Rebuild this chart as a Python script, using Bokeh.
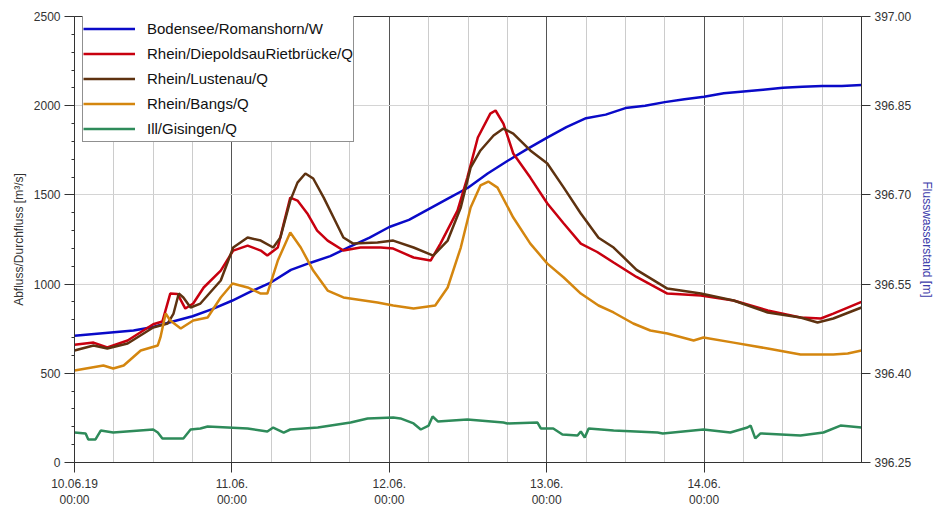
from bokeh.plotting import figure
from bokeh.models import (Range1d, LinearAxis, FixedTicker, PrintfTickFormatter,
                          Legend, LegendItem)
from bokeh.embed import file_html
from bokeh.resources import INLINE

# ---------------- data (hours since 10.06.19 00:00) ----------------
bodensee_h = [0, 3, 6, 9, 12, 15, 18, 21, 24, 27, 30, 33, 36, 39, 42, 45, 48, 51, 54, 57,
              60, 63, 66, 69, 72, 75, 78, 81, 84, 87, 90, 93, 96, 99, 102, 105, 108, 111,
              114, 117, 120]
bodensee_w = [396.463, 396.466, 396.469, 396.472, 396.478, 396.487, 396.496, 396.508,
              396.522, 396.538, 396.553, 396.574, 396.586, 396.597, 396.613, 396.628,
              396.646, 396.658, 396.676, 396.694, 396.712, 396.736, 396.757, 396.777,
              396.796, 396.814, 396.829, 396.835, 396.846, 396.850, 396.856, 396.861,
              396.865, 396.871, 396.874, 396.877, 396.880, 396.882, 396.883, 396.883,
              396.885]

diepoldsau_h = [0, 2.9, 5, 8.1, 12, 13.4, 14.6, 15.7, 16.9, 18.1, 19.7, 22.3, 24.2, 26.4,
                28.4, 29.4, 31, 31.9, 32.9, 34, 35.5, 37, 38.6, 41, 43.6, 46.7, 48.6, 51.7,
                54.3, 55.8, 58.4, 59.9, 61.5, 63.4, 64.2, 65.4, 66.9, 69.5, 72.1, 74.6,
                77.2, 79.7, 82.2, 85.7, 90.4, 95.5, 100.5, 105.7, 110.7, 113.8, 115.7, 120]
diepoldsau_q = [660, 672, 645, 684, 775, 790, 947, 945, 863, 891, 981, 1076, 1188, 1216,
                1188, 1160, 1205, 1340, 1485, 1468, 1396, 1300, 1244, 1188, 1205, 1205, 1199,
                1149, 1132, 1227, 1412, 1597, 1822, 1956, 1973, 1900, 1732, 1597, 1452, 1340,
                1227, 1180, 1121, 1040, 947, 936, 908, 852, 813, 807, 835, 900]

lustenau_h = [0, 2.9, 5, 8.1, 12, 14.2, 15.1, 15.9, 16.6, 17.7, 19.2, 22.3, 24.2, 26.4,
              28.4, 30.3, 31.4, 32.9, 34, 35.2, 36.4, 38, 39.5, 41, 42.5, 46.2, 48.6, 51.7,
              54.7, 56.9, 58.9, 60.4, 61.9, 63.9, 65.4, 66.9, 69.5, 72.1, 74.6, 77.2, 79.9,
              82.2, 85.7, 90.4, 95.5, 100.5, 105.7, 110.7, 113.3, 115.7, 120]
lustenau_q = [628, 656, 639, 667, 757, 779, 835, 947, 925, 869, 891, 1020, 1205, 1261,
              1244, 1205, 1261, 1468, 1569, 1620, 1592, 1485, 1373, 1261, 1227, 1233, 1244,
              1205, 1160, 1244, 1429, 1653, 1749, 1833, 1872, 1844, 1749, 1676, 1541, 1396,
              1260, 1205, 1080, 975, 947, 908, 841, 813, 785, 807, 869]

bangs_h = [0, 4.4, 5.9, 7.5, 10.1, 12.7, 13.1, 13.9, 14.6, 16.2, 18.1, 20.3, 22.3, 24.1,
           26.4, 28.4, 29.4, 31, 32.9, 34.5, 36.4, 38.6, 41, 46.2, 48.6, 51.7, 55, 56.9,
           58.9, 60.4, 61.9, 63.1, 64.5, 66.9, 69.5, 72.1, 74.6, 77.2, 79.9, 82.2, 85.2,
           87.8, 90.4, 94.4, 95.9, 100.5, 105.7, 110.7, 115.7, 117.9, 120]
bangs_q = [516, 544, 527, 544, 628, 656, 701, 835, 796, 751, 796, 813, 925, 1003, 981, 947,
           947, 1132, 1289, 1205, 1076, 964, 925, 897, 880, 863, 880, 981, 1205, 1429, 1553,
           1575, 1541, 1373, 1227, 1115, 1037, 947, 880, 841, 779, 740, 723, 684, 701, 672,
           639, 605, 605, 611, 628]

gisingen_h = [0, 1.7, 2.1, 3.2, 4, 5.9, 12, 12.7, 13.4, 16.6, 17.7, 19.2, 20.3, 26.4, 29.4,
              30.3, 31.9, 32.9, 37.1, 42.1, 44.7, 48.6, 49.7, 51.7, 52.8, 54, 54.6, 55.4,
              59.9, 65.4, 66, 70.6, 71.1, 73, 74.4, 76.7, 77.2, 77.8, 78.4, 82.2, 88.9, 89.7,
              95.9, 100, 102.6, 103.1, 103.8, 104.6, 110.7, 114.2, 116.8, 120]
gisingen_q = [168, 163, 129, 129, 179, 168, 185, 168, 135, 135, 185, 191, 202, 191, 174,
              196, 168, 185, 196, 224, 247, 252, 247, 219, 185, 207, 258, 230, 241, 224, 219,
              224, 191, 191, 157, 151, 174, 140, 191, 179, 168, 163, 185, 168, 196, 207, 135,
              163, 151, 168, 207, 196]

series_names = ["Bodensee/Romanshorn/W", "Rhein/DiepoldsauRietbrücke/Q", "Rhein/Lustenau/Q",
                "Rhein/Bangs/Q", "Ill/Gisingen/Q"]
series_colors = ["#0a0ac8", "#c8000f", "#5e3210", "#d4860f", "#2e8b5a"]

day_ticks = [0, 24, 48, 72, 96]
day_labels = ["10.06.19\n00:00", "11.06.\n00:00", "12.06.\n00:00", "13.06.\n00:00", "14.06.\n00:00"]
q_ticks = [0, 500, 1000, 1500, 2000, 2500]
w_ticks = [396.25, 396.40, 396.55, 396.70, 396.85, 397.00]

FONT = "Liberation Sans"

p = figure(frame_width=787, frame_height=446, output_backend="svg", toolbar_location=None,
           x_range=Range1d(0, 120), y_range=Range1d(0, 2500),
           min_border_left=74, min_border_right=74, min_border_top=16, min_border_bottom=43)
p.extra_y_ranges = {"w": Range1d(396.25, 397.0)}
p.outline_line_color = "#333333"
p.outline_line_width = 1
p.background_fill_color = "white"
p.border_fill_color = "white"

# grids
p.xgrid.ticker = FixedTicker(ticks=day_ticks, minor_ticks=[h for h in range(6, 120, 6) if h % 24])
p.xgrid.grid_line_color = "#555555"
p.xgrid.grid_line_width = 1
p.xgrid.minor_grid_line_color = "#cccccc"
p.xgrid.minor_grid_line_width = 1
p.ygrid.ticker = FixedTicker(ticks=q_ticks[1:-1])
p.ygrid.grid_line_color = "#d4d4d4"

# x axis
xa = p.xaxis[0]
xa.ticker = FixedTicker(ticks=day_ticks)
xa.major_label_overrides = {t: l for t, l in zip(day_ticks, day_labels)}
xa.major_label_text_align = "left"
xa.major_label_text_font = FONT
xa.major_label_text_font_size = "12px"
xa.major_label_text_color = "#333333"
xa.major_tick_out = 10
xa.major_tick_in = 0
xa.minor_tick_line_color = None
xa.axis_line_color = "#333333"
xa.major_tick_line_color = "#333333"
xa.major_label_standoff = 4

# left axis
ya = p.yaxis[0]
ya.ticker = FixedTicker(ticks=q_ticks, minor_ticks=[v for v in range(100, 2500, 100) if v % 500])
ya.axis_label = "Abfluss/Durchfluss [m³/s]"
ya.axis_label_text_font = FONT
ya.axis_label_text_font_style = "normal"
ya.axis_label_text_font_size = "12px"
ya.axis_label_text_color = "#333333"
ya.axis_label_standoff = 5
ya.major_label_text_font = FONT
ya.major_label_text_font_size = "12px"
ya.major_label_text_color = "#333333"
ya.major_tick_out = 10
ya.major_tick_in = 0
ya.minor_tick_out = 3
ya.minor_tick_in = 0
ya.major_label_standoff = 4
ya.axis_line_color = "#333333"
ya.major_tick_line_color = "#333333"
ya.minor_tick_line_color = "#333333"

# right axis
ra = LinearAxis(y_range_name="w", ticker=FixedTicker(ticks=w_ticks),
                formatter=PrintfTickFormatter(format="%.2f"))
ra.axis_label = "Flusswasserstand [m]"
ra.axis_label_text_font = FONT
ra.axis_label_text_font_style = "normal"
ra.axis_label_text_font_size = "12px"
ra.axis_label_text_color = "#3c3caa"
ra.axis_label_standoff = 6
ra.major_label_text_font = FONT
ra.major_label_text_font_size = "12px"
ra.major_label_text_color = "#333333"
ra.major_tick_out = 9
ra.major_tick_in = 0
ra.minor_tick_line_color = None
ra.major_label_standoff = 4
ra.axis_line_color = "#333333"
ra.major_tick_line_color = "#333333"
p.add_layout(ra, "right")

# lines
r_w = p.line(bodensee_h, bodensee_w, y_range_name="w", color=series_colors[0], line_width=2.5)
r_d = p.line(diepoldsau_h, diepoldsau_q, color=series_colors[1], line_width=2.5)
r_l = p.line(lustenau_h, lustenau_q, color=series_colors[2], line_width=2.5)
r_b = p.line(bangs_h, bangs_q, color=series_colors[3], line_width=2.5)
r_g = p.line(gisingen_h, gisingen_q, color=series_colors[4], line_width=2.5)
renderers = [r_w, r_d, r_l, r_b, r_g]

legend = Legend(items=[LegendItem(label=n, renderers=[r]) for n, r in zip(series_names, renderers)],
                location=(8, 446 - 126), orientation="vertical",
                glyph_width=52, glyph_height=25, label_height=25, label_standoff=12,
                spacing=0, padding=0, margin=0,
                label_text_font=FONT, label_text_font_size="15px", label_text_color="#111111",
                border_line_color="#222222", border_line_width=1,
                background_fill_color="white", background_fill_alpha=1.0)
p.add_layout(legend, "center")

open("out.html", "w").write(file_html(p, INLINE))
